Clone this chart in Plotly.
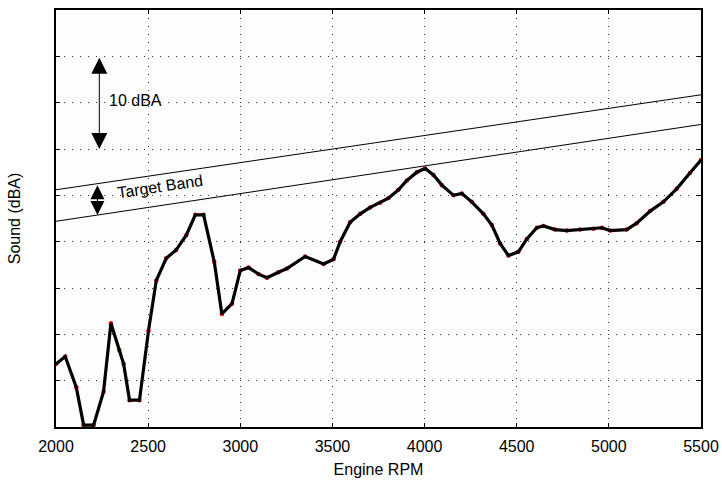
import plotly.graph_objects as go

# Engine RPM (x) and Sound level in dBA (y) of the measured curve
rpm = [2000, 2050, 2110, 2150, 2204, 2258, 2298, 2343, 2367, 2399, 2453, 2502,
       2544, 2598, 2652, 2707, 2756, 2801, 2859, 2900, 2955, 3000, 3045, 3099,
       3145, 3207, 3253, 3352, 3452, 3506, 3542, 3596, 3651, 3705, 3759, 3804,
       3858, 3904, 3958, 4003, 4048, 4094, 4157, 4202, 4256, 4319, 4365, 4410,
       4455, 4509, 4555, 4609, 4645, 4708, 4772, 4844, 4916, 4962, 5007, 5097,
       5151, 5224, 5296, 5368, 5440, 5500]
sound = [56.8, 57.6, 54.3, 50.2, 50.2, 53.8, 61.2, 58.3, 56.8, 52.9, 52.9, 60.4,
         65.8, 68.2, 69.1, 70.7, 72.9, 72.9, 67.8, 62.2, 63.3, 66.9, 67.2, 66.5,
         66.1, 66.7, 67.1, 68.4, 67.6, 68.1, 70.0, 72.1, 73.0, 73.7, 74.2, 74.7,
         75.6, 76.6, 77.5, 77.9, 77.2, 76.1, 75.0, 75.2, 74.3, 73.0, 71.8, 69.8,
         68.5, 68.9, 70.3, 71.5, 71.7, 71.3, 71.2, 71.3, 71.4, 71.5, 71.2, 71.3,
         72.0, 73.3, 74.3, 75.7, 77.4, 78.8]

# Target band boundaries (start / end of the RPM range)
band_rpm = [2000, 5500]
band_lower = [72.2, 82.65]
band_upper = [75.6, 85.85]

x_ticks = [2000, 2500, 3000, 3500, 4000, 4500, 5000, 5500]
y_ticks = [50, 55, 60, 65, 70, 75, 80, 85, 90, 95]

FONT = "Liberation Sans"

fig = go.Figure()
fig.add_trace(go.Scatter(x=band_rpm, y=band_lower, mode="lines",
                         line=dict(color="black", width=1), hoverinfo="skip"))
fig.add_trace(go.Scatter(x=band_rpm, y=band_upper, mode="lines",
                         line=dict(color="black", width=1), hoverinfo="skip"))
fig.add_trace(go.Scatter(x=rpm, y=sound, mode="markers",
                         marker=dict(color="red", size=4.5)))
fig.add_trace(go.Scatter(x=rpm, y=sound, mode="lines",
                         line=dict(color="black", width=3.2)))

arrow_x = 2235
band_arrow_x = 2225
def band_at(x, ys):
    return ys[0] + (ys[1] - ys[0]) * (x - band_rpm[0]) / (band_rpm[1] - band_rpm[0])

annots = [
    dict(x=arrow_x, y=80, ax=arrow_x, ay=90, xref="x", yref="y", axref="x", ayref="y",
         text="", showarrow=True, arrowhead=2, startarrowhead=2, arrowside="end+start",
         arrowsize=3.2, startarrowsize=3.2, arrowwidth=1, arrowcolor="black",
         standoff=0, startstandoff=0),
    dict(x=band_arrow_x, y=band_at(band_arrow_x, band_lower), ax=band_arrow_x,
         ay=band_at(band_arrow_x, band_upper), xref="x", yref="y", axref="x", ayref="y",
         text="", showarrow=True, arrowhead=2, startarrowhead=2, arrowside="end+start",
         arrowsize=2.8, startarrowsize=2.8, arrowwidth=1, arrowcolor="black",
         standoff=0, startstandoff=0),
    dict(x=2278, y=85.2, xref="x", yref="y", text="10 dBA", showarrow=False,
         xanchor="left", yanchor="middle", font=dict(family=FONT, size=16, color="black")),
    dict(x=2566, y=75.9, xref="x", yref="y", text="Target Band", showarrow=False,
         textangle=-8.5, xanchor="center", yanchor="middle",
         font=dict(family=FONT, size=16, color="black")),
]

fig.update_layout(
    width=722, height=482,
    margin=dict(l=56, r=21, t=10, b=55),
    paper_bgcolor="white", plot_bgcolor="#fdfdfd",
    showlegend=False,
    annotations=annots,
    font=dict(family=FONT, size=16, color="black"),
)
fig.update_xaxes(range=[2000, 5500], tickvals=x_ticks, ticktext=[str(v) for v in x_ticks],
                 showgrid=True, gridcolor="#333", griddash="1px,7px", gridwidth=1,
                 ticks="inside", ticklen=4, tickcolor="black", mirror="ticks",
                 showline=True, linecolor="black", linewidth=1.5, zeroline=False,
                 tickfont=dict(family=FONT, size=16), ticklabelstandoff=4,
                 automargin=False,
                 title=dict(text="Engine RPM", font=dict(family=FONT, size=16), standoff=10))
fig.update_yaxes(range=[50, 95], tickvals=y_ticks, showticklabels=False,
                 showgrid=True, gridcolor="#333", griddash="1px,7px", gridwidth=1,
                 ticks="inside", ticklen=4, tickcolor="black", mirror="ticks",
                 showline=True, linecolor="black", linewidth=1.5, zeroline=False,
                 automargin=False,
                 title=dict(text="Sound (dBA)", font=dict(family=FONT, size=16), standoff=30))

fig.write_html("out.html")
